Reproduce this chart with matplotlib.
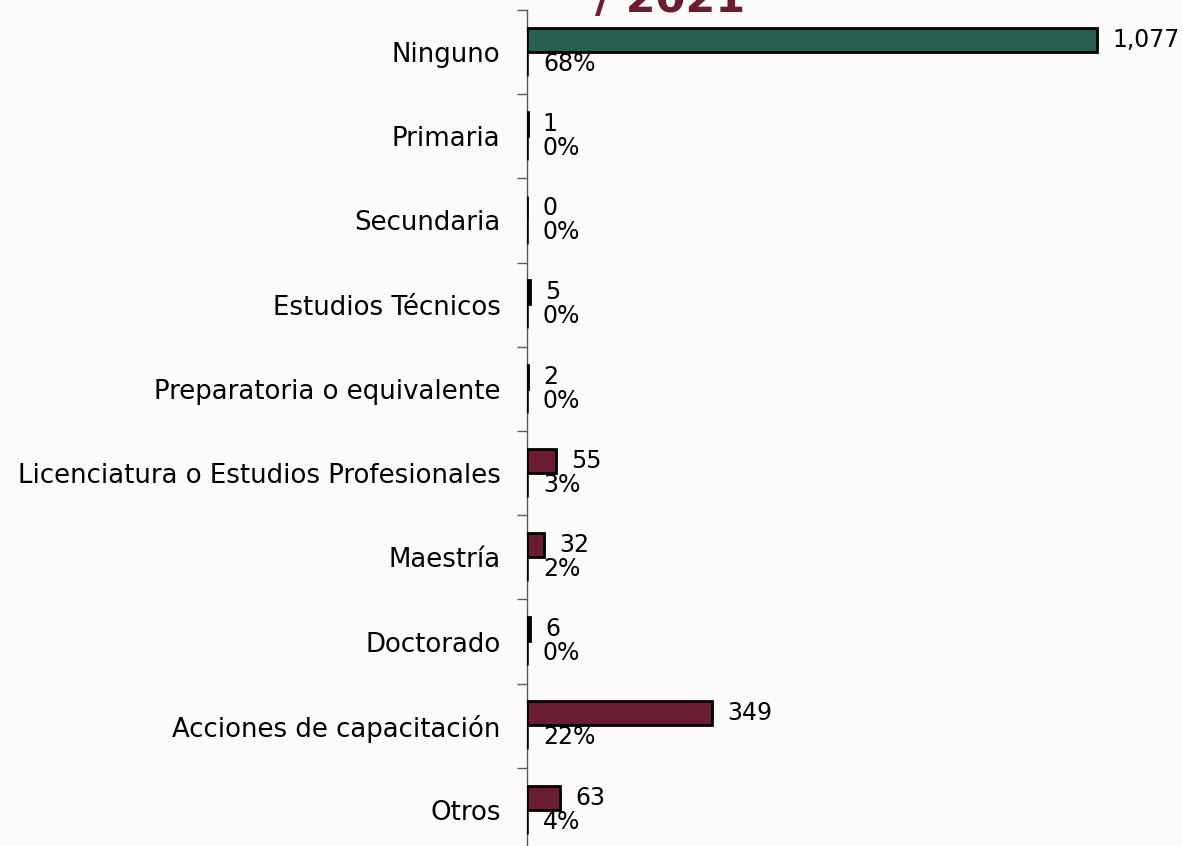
import matplotlib
matplotlib.use("Agg")
import matplotlib.pyplot as plt
import numpy as np

categories = ["Ninguno", "Primaria", "Secundaria", "Estudios Técnicos",
              "Preparatoria o equivalente", "Licenciatura o Estudios Profesionales",
              "Maestría", "Doctorado", "Acciones de capacitación", "Otros"]
values = [1077, 1, 0, 5, 2, 55, 32, 6, 349, 63]
percents = [68, 0, 0, 0, 0, 3, 2, 0, 22, 4]
value_labels = ["1,077", "1", "0", "5", "2", "55", "32", "6", "349", "63"]
pct_labels = ["68%", "0%", "0%", "0%", "0%", "3%", "2%", "0%", "22%", "4%"]
title_tail = "/ 2021"

GREEN = "#265e4f"
MAROON = "#6a1d32"
BG = "#fdfbfa"
FONT = "DejaVu Sans"
FS_CAT = 18.7
FS_VAL = 17

W, H = 1182, 846
fig = plt.figure(figsize=(W / 100, H / 100), dpi=100, facecolor=BG)
ax = fig.add_axes([527 / W, -6 / H, 655 / W, 842 / H])
ax.set_facecolor("none")

n = len(categories)
y = np.arange(n)
bh = 0.285
colors = [GREEN] + [MAROON] * (n - 1)
ax.barh(y - 0.145, values, height=bh, color=colors, edgecolor="black", linewidth=2, zorder=3)
ax.barh(y + 0.14, [p / 100 for p in percents], height=bh, color="black",
        edgecolor="black", linewidth=1.8, zorder=3)

for i in range(n):
    ax.annotate(value_labels[i], xy=(values[i], y[i] - 0.145), xytext=(11, 0),
                textcoords="offset points", va="center", ha="left",
                fontsize=FS_VAL, family=FONT, color="black")
    ax.annotate(pct_labels[i], xy=(percents[i] / 100, y[i] + 0.14), xytext=(11.5, 0),
                textcoords="offset points", va="center", ha="left",
                fontsize=FS_VAL, family=FONT, color="black")

ax.set_xlim(0, 655 / 0.5293)
ax.set_ylim(n - 0.5, -0.5)
ax.set_yticks(y)
ax.set_yticklabels(categories, fontsize=FS_CAT, family=FONT, color="black")
ax.tick_params(axis="y", which="major", length=0, pad=19)
ax.set_yticks(np.arange(n + 1) - 0.5, minor=True)
ax.tick_params(axis="y", which="minor", length=7, width=1, color="#5a5a5a")
ax.set_xticks([])
for s in ["top", "right", "bottom"]:
    ax.spines[s].set_visible(False)
ax.spines["left"].set_color("#5a5a5a")
ax.spines["left"].set_linewidth(1)

fig.text(745 / W, (H - 12) / H, title_tail, ha="right", va="baseline",
         fontsize=31, fontweight="bold", family=FONT, color=MAROON)

fig.savefig("out.png", dpi=100, facecolor=BG)
